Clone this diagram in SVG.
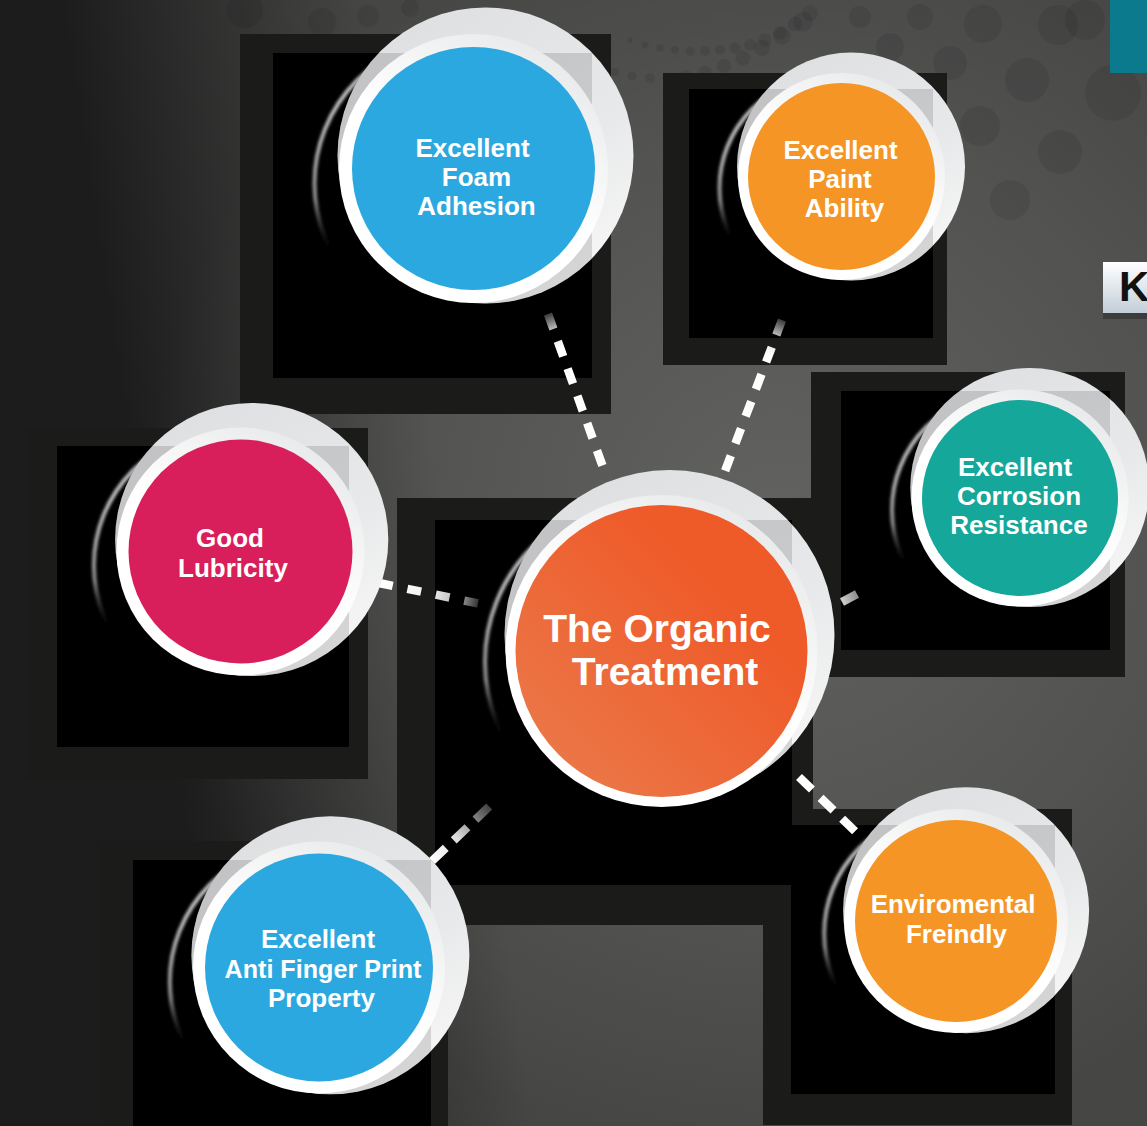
<svg xmlns="http://www.w3.org/2000/svg" width="1147" height="1126" viewBox="0 0 1147 1126">
<defs>
<style>
.sqo{fill:#1b1b1a}
.sqi{fill:#000}
.shadow{fill:#000}
.rim{fill:none;stroke:url(#rimG);stroke-width:4;filter:url(#soft)}
.gray{fill:url(#grayG)}
.ov{fill:#000;fill-opacity:0.13}
.white{fill:url(#whiteG)}
.lbl{font-family:"Liberation Sans",Arial,sans-serif;font-weight:bold;font-size:26px;fill:#fff;text-anchor:middle}
.big{font-size:39px}
.dash{fill:none;stroke-width:8.5;stroke-linecap:butt}
.dot{fill:#000;fill-opacity:0.08}
</style>
<linearGradient id="bgG" gradientUnits="userSpaceOnUse" x1="60" y1="0" x2="360" y2="-45">
<stop offset="0" stop-color="#1c1c1c"/>
<stop offset="1" stop-color="#464645"/>
</linearGradient>
<radialGradient id="glowG" gradientUnits="userSpaceOnUse" cx="780" cy="520" r="640">
<stop offset="0" stop-color="#ffffff" stop-opacity="0.15"/>
<stop offset="0.6" stop-color="#ffffff" stop-opacity="0.07"/>
<stop offset="1" stop-color="#ffffff" stop-opacity="0"/>
</radialGradient>
<linearGradient id="rimG" x1="0" y1="0.2" x2="0.6" y2="0.8">
<stop offset="0" stop-color="#d8d8d8"/>
<stop offset="0.3" stop-color="#8a8a8a"/>
<stop offset="0.5" stop-color="#000" stop-opacity="0"/>
<stop offset="1" stop-color="#000" stop-opacity="0"/>
</linearGradient>
<linearGradient id="grayG" x1="0.2" y1="0" x2="0.8" y2="1">
<stop offset="0" stop-color="#dedfe1"/>
<stop offset="0.6" stop-color="#e8e9ea"/>
<stop offset="1" stop-color="#f8f8f8"/>
</linearGradient>
<linearGradient id="whiteG" x1="0.8" y1="0" x2="0.2" y2="1">
<stop offset="0" stop-color="#e6e7e8"/>
<stop offset="0.5" stop-color="#ffffff"/>
<stop offset="1" stop-color="#ffffff"/>
</linearGradient>
<linearGradient id="orgG" x1="1" y1="0" x2="0" y2="1">
<stop offset="0.3" stop-color="#ef5a29"/>
<stop offset="1" stop-color="#ea7d4e"/>
</linearGradient>
<linearGradient id="kG" x1="0" y1="0" x2="0" y2="1">
<stop offset="0" stop-color="#ffffff"/>
<stop offset="1" stop-color="#c3ced8"/>
</linearGradient>
<filter id="soft" x="-10%" y="-10%" width="120%" height="120%"><feGaussianBlur stdDeviation="1.5"/></filter>
<linearGradient id="g1" gradientUnits="userSpaceOnUse" x1="548" y1="314" x2="604" y2="470">
<stop offset="0" stop-color="#3a3a3a"/><stop offset="0.12" stop-color="#dddddd"/><stop offset="0.22" stop-color="#ffffff"/><stop offset="1" stop-color="#ffffff"/>
</linearGradient>
<linearGradient id="g2" gradientUnits="userSpaceOnUse" x1="782" y1="320" x2="722" y2="479">
<stop offset="0" stop-color="#3a3a3a"/><stop offset="0.12" stop-color="#dddddd"/><stop offset="0.22" stop-color="#ffffff"/><stop offset="1" stop-color="#ffffff"/>
</linearGradient>
<linearGradient id="g3" gradientUnits="userSpaceOnUse" x1="379" y1="583" x2="481" y2="604">
<stop offset="0" stop-color="#ffffff"/><stop offset="0.5" stop-color="#f2f2f2"/><stop offset="0.75" stop-color="#bbbbbb"/><stop offset="1" stop-color="#222222"/>
</linearGradient>
<linearGradient id="g4" gradientUnits="userSpaceOnUse" x1="842" y1="602" x2="857" y2="594">
<stop offset="0" stop-color="#d0d0d0"/><stop offset="1" stop-color="#8a8a8a"/>
</linearGradient>
<linearGradient id="g6" gradientUnits="userSpaceOnUse" x1="432" y1="861" x2="494" y2="802">
<stop offset="0" stop-color="#ffffff"/><stop offset="0.4" stop-color="#dddddd"/><stop offset="1" stop-color="#2a2a2a"/>
</linearGradient>
<clipPath id="cp1"><circle cx="485.5" cy="155.5" r="148"/></clipPath>
<clipPath id="cp2"><circle cx="851" cy="166.5" r="114"/></clipPath>
<clipPath id="cp3"><circle cx="1029.8" cy="487.5" r="119.5"/></clipPath>
<clipPath id="cp4"><circle cx="251.7" cy="539.5" r="136.6"/></clipPath>
<clipPath id="cp5"><circle cx="669.5" cy="635" r="165"/></clipPath>
<clipPath id="cp6"><circle cx="330.4" cy="955.3" r="139"/></clipPath>
<clipPath id="cp7"><circle cx="966.1" cy="910.2" r="123"/></clipPath>
</defs>

<g id="background">
<rect x="0" y="0" width="1147" height="1126" fill="url(#bgG)"/>
<rect x="0" y="0" width="1147" height="1126" fill="url(#glowG)"/>
<g class="dots">
<circle class="dot" cx="245" cy="10" r="18"/><circle class="dot" cx="322" cy="22" r="14"/><circle class="dot" cx="368" cy="16" r="11"/><circle class="dot" cx="410" cy="8" r="9"/>
<circle class="dot" cx="630" cy="40" r="3"/><circle class="dot" cx="645" cy="45" r="3.5"/><circle class="dot" cx="660" cy="48" r="4"/><circle class="dot" cx="675" cy="50" r="4"/><circle class="dot" cx="690" cy="51" r="4.5"/><circle class="dot" cx="705" cy="51" r="5"/><circle class="dot" cx="720" cy="50" r="5"/><circle class="dot" cx="735" cy="48" r="5.5"/><circle class="dot" cx="750" cy="45" r="6"/><circle class="dot" cx="765" cy="40" r="6.5"/><circle class="dot" cx="780" cy="33" r="7"/><circle class="dot" cx="795" cy="24" r="7.5"/><circle class="dot" cx="810" cy="13" r="8"/>
<circle class="dot" cx="615" cy="72" r="4"/><circle class="dot" cx="632" cy="76" r="4.5"/><circle class="dot" cx="650" cy="78" r="5"/><circle class="dot" cx="668" cy="78" r="5.5"/><circle class="dot" cx="686" cy="76" r="6"/><circle class="dot" cx="705" cy="72" r="6.5"/><circle class="dot" cx="724" cy="66" r="7"/><circle class="dot" cx="743" cy="58" r="7.5"/><circle class="dot" cx="762" cy="48" r="8"/><circle class="dot" cx="782" cy="36" r="9"/><circle class="dot" cx="803" cy="22" r="10"/>
<circle class="dot" cx="860" cy="17" r="11"/><circle class="dot" cx="890" cy="47" r="14"/><circle class="dot" cx="920" cy="17" r="13"/><circle class="dot" cx="950" cy="63" r="17"/><circle class="dot" cx="983" cy="24" r="19"/><circle class="dot" cx="1027" cy="80" r="22"/><circle class="dot" cx="1058" cy="25" r="20"/><circle class="dot" cx="980" cy="126" r="20"/><circle class="dot" cx="1060" cy="152" r="22"/><circle class="dot" cx="1113" cy="93" r="28"/><circle class="dot" cx="1085" cy="20" r="20"/><circle class="dot" cx="1010" cy="200" r="20"/>
</g>
<rect x="1110" y="0" width="37" height="73" fill="#0a7a8c"/>
<rect x="1103" y="313" width="44" height="6" fill="#000" fill-opacity="0.25"/>
<rect x="1103" y="262" width="44" height="51" fill="url(#kG)"/>
<text x="1119" y="301" font-family="Liberation Sans,Arial,sans-serif" font-weight="bold" font-size="42" fill="#111">K</text>
</g>

<g id="squares">
<rect class="sqo" x="240" y="34" width="371" height="380"/>
<rect class="sqo" x="663" y="73" width="284" height="292"/>
<rect class="sqo" x="811" y="372" width="314" height="305"/>
<rect class="sqo" x="26" y="428" width="342" height="351"/>
<rect class="sqo" x="397" y="498" width="416" height="427"/>
<rect class="sqo" x="102" y="841" width="346" height="285"/>
<rect class="sqo" x="763" y="809" width="309" height="316"/>
<rect class="sqi" x="273" y="53" width="319" height="325"/>
<rect class="sqi" x="689" y="89" width="244" height="249"/>
<rect class="sqi" x="841" y="391" width="269" height="259"/>
<rect class="sqi" x="57" y="446" width="292" height="301"/>
<rect class="sqi" x="435" y="520" width="357" height="365"/>
<rect class="sqi" x="133" y="860" width="298" height="266"/>
<rect class="sqi" x="791" y="825" width="264" height="269"/>
</g>

<g id="connectors">
<line class="dash" x1="548" y1="314" x2="604" y2="470" stroke="url(#g1)" stroke-dasharray="16 13"/>
<line class="dash" x1="782" y1="320" x2="722" y2="479" stroke="url(#g2)" stroke-dasharray="16 13"/>
<line class="dash" x1="379" y1="583" x2="481" y2="604" stroke="url(#g3)" stroke-dasharray="14 15"/>
<line class="dash" x1="842" y1="602" x2="857" y2="594" stroke="url(#g4)"/>
<line class="dash" x1="799" y1="777" x2="860" y2="836" stroke="#ffffff" stroke-dasharray="18 12"/>
<line class="dash" x1="432" y1="861" x2="494" y2="802" stroke="url(#g6)" stroke-dasharray="19 11"/>
</g>

<g id="node-foam">
<circle class="shadow" cx="460.5" cy="183.5" r="148"/>
<circle class="rim" cx="460.5" cy="183.5" r="146"/>
<circle class="gray" cx="485.5" cy="155.5" r="148"/>
<rect class="ov" x="273" y="53" width="319" height="325" clip-path="url(#cp1)"/>
<circle class="white" cx="473.5" cy="168.5" r="134.5"/>
<circle cx="473.5" cy="168.5" r="121.5" fill="#2ca8e0"/>
<text class="lbl" x="472.5" y="157">Excellent</text>
<text class="lbl" x="476.5" y="186">Foam</text>
<text class="lbl" x="476.5" y="215">Adhesion</text>
</g>

<g id="node-paint">
<circle class="shadow" cx="831.5" cy="188" r="114"/>
<circle class="rim" cx="831.5" cy="188" r="112"/>
<circle class="gray" cx="851" cy="166.5" r="114"/>
<rect class="ov" x="689" y="89" width="244" height="249" clip-path="url(#cp2)"/>
<circle class="white" cx="841.5" cy="176.5" r="103.5"/>
<circle cx="841.5" cy="176.5" r="93.5" fill="#f49526"/>
<text class="lbl" x="840.5" y="159">Excellent</text>
<text class="lbl" x="840" y="188">Paint</text>
<text class="lbl" x="844.5" y="217">Ability</text>
</g>

<g id="node-corrosion">
<circle class="shadow" cx="1009.5" cy="510" r="119.5"/>
<circle class="rim" cx="1009.5" cy="510" r="117.5"/>
<circle class="gray" cx="1029.8" cy="487.5" r="119.5"/>
<rect class="ov" x="841" y="391" width="269" height="259" clip-path="url(#cp3)"/>
<circle class="white" cx="1020" cy="498" r="108.5"/>
<circle cx="1020" cy="498" r="98" fill="#14a79a"/>
<text class="lbl" x="1015" y="476">Excellent</text>
<text class="lbl" x="1019" y="505">Corrosion</text>
<text class="lbl" x="1019" y="534">Resistance</text>
</g>

<g id="node-lubricity">
<circle class="shadow" cx="228.5" cy="565.4" r="136.6"/>
<circle class="rim" cx="228.5" cy="565.4" r="134.6"/>
<circle class="gray" cx="251.7" cy="539.5" r="136.6"/>
<rect class="ov" x="57" y="446" width="292" height="301" clip-path="url(#cp4)"/>
<circle class="white" cx="240.5" cy="551.5" r="124"/>
<circle cx="240.5" cy="551.5" r="112" fill="#d81f5c"/>
<text class="lbl" x="230" y="547">Good</text>
<text class="lbl" x="233" y="577">Lubricity</text>
</g>

<g id="node-center">
<circle class="shadow" cx="648" cy="662" r="165"/>
<circle class="rim" cx="648" cy="662" r="163"/>
<circle class="gray" cx="669.5" cy="635" r="165"/>
<rect class="ov" x="435" y="520" width="357" height="365" clip-path="url(#cp5)"/>
<circle class="white" cx="661.5" cy="651" r="156"/>
<circle cx="661.5" cy="651" r="146" fill="url(#orgG)"/>
<text class="lbl big" x="657" y="642">The Organic</text>
<text class="lbl big" x="665" y="685">Treatment</text>
</g>

<g id="node-antifinger">
<circle class="shadow" cx="306.8" cy="981.6" r="139"/>
<circle class="rim" cx="306.8" cy="981.6" r="137"/>
<circle class="gray" cx="330.4" cy="955.3" r="139"/>
<rect class="ov" x="133" y="860" width="298" height="266" clip-path="url(#cp6)"/>
<circle class="white" cx="319" cy="967.5" r="126"/>
<circle cx="319" cy="967.5" r="114" fill="#2ca8e0"/>
<text class="lbl" x="318" y="948">Excellent</text>
<text class="lbl" x="323" y="978" textLength="197" lengthAdjust="spacingAndGlyphs">Anti Finger Print</text>
<text class="lbl" x="321.5" y="1007">Property</text>
</g>

<g id="node-environmental">
<circle class="shadow" cx="945.2" cy="933.5" r="123"/>
<circle class="rim" cx="945.2" cy="933.5" r="121"/>
<circle class="gray" cx="966.1" cy="910.2" r="123"/>
<rect class="ov" x="791" y="825" width="264" height="269" clip-path="url(#cp7)"/>
<circle class="white" cx="956" cy="921" r="112"/>
<circle cx="956" cy="921" r="101" fill="#f49526"/>
<text class="lbl" x="953" y="913">Enviromental</text>
<text class="lbl" x="956.5" y="943">Freindly</text>
</g>
</svg>
